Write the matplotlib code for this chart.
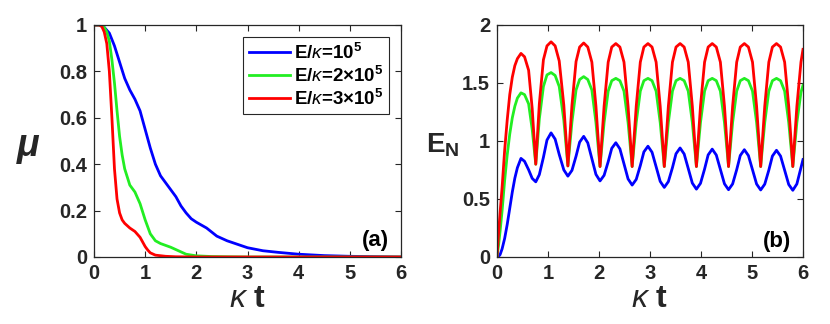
import matplotlib
matplotlib.use("Agg")
import matplotlib.pyplot as plt

plt.rcParams["font.family"] = ["Liberation Sans", "DejaVu Sans"]
plt.rcParams["mathtext.fontset"] = "custom"
plt.rcParams["mathtext.rm"] = "Liberation Sans"
plt.rcParams["mathtext.it"] = "Liberation Sans:italic"
plt.rcParams["mathtext.bf"] = "Liberation Sans:bold"
plt.rcParams["mathtext.bfit"] = "Liberation Sans:italic:bold"

# ---- panel (a): mu versus kappa t ----
t_a_blue = [0, 0.1, 0.2, 0.3, 0.4, 0.5, 0.6, 0.7, 0.8, 0.9, 1.0, 1.1, 1.2, 1.3,
            1.4, 1.5, 1.6, 1.7, 1.8, 1.9, 2.0, 2.2, 2.4, 2.6, 2.8, 3.0, 3.3,
            3.6, 4.0, 4.5, 5.0, 6.0]
mu_blue = [1, 1, 0.99, 0.965, 0.91, 0.84, 0.77, 0.72, 0.68, 0.63, 0.55, 0.47,
           0.40, 0.35, 0.32, 0.29, 0.26, 0.22, 0.19, 0.165, 0.15, 0.125, 0.09,
           0.07, 0.055, 0.04, 0.027, 0.02, 0.012, 0.006, 0.003, 0.0]

t_a_green = [0, 0.1, 0.2, 0.25, 0.3, 0.35, 0.4, 0.45, 0.5, 0.55, 0.6, 0.7, 0.8,
             0.9, 1.0, 1.1, 1.2, 1.3, 1.4, 1.5, 1.6, 1.7, 1.8, 2.0, 2.3, 2.6,
             3.0, 6.0]
mu_green = [1, 1, 0.99, 0.97, 0.93, 0.85, 0.75, 0.63, 0.52, 0.44, 0.38, 0.31,
            0.28, 0.23, 0.16, 0.10, 0.07, 0.058, 0.05, 0.042, 0.032, 0.022,
            0.012, 0.005, 0.002, 0.001, 0, 0]

t_a_red = [0, 0.1, 0.15, 0.2, 0.25, 0.3, 0.35, 0.4, 0.45, 0.5, 0.55, 0.6, 0.7,
           0.8, 0.9, 0.95, 1.0, 1.05, 1.1, 1.2, 1.4, 1.6, 2.0, 6.0]
mu_red = [1, 1, 0.995, 0.97, 0.92, 0.8, 0.6, 0.38, 0.25, 0.19, 0.16, 0.145,
          0.125, 0.11, 0.085, 0.065, 0.045, 0.03, 0.018, 0.008, 0.003, 0.001,
          0, 0]

# ---- panel (b): E_N versus kappa t (shared time grid) ----
t_b = [0, 0.03, 0.06, 0.1, 0.15, 0.2, 0.25, 0.3, 0.35, 0.4, 0.47,
       0.54, 0.62, 0.69, 0.76, 0.83, 0.91, 0.98, 1.06,
       1.14, 1.22, 1.31, 1.39, 1.47, 1.55, 1.62, 1.70,
       1.78, 1.86, 1.94, 2.02, 2.10, 2.18, 2.25, 2.33,
       2.41, 2.49, 2.57, 2.65, 2.73, 2.81, 2.88, 2.96,
       3.04, 3.12, 3.20, 3.28, 3.36, 3.44, 3.51, 3.59,
       3.67, 3.75, 3.83, 3.91, 3.99, 4.07, 4.14, 4.22,
       4.30, 4.38, 4.46, 4.54, 4.62, 4.70, 4.77, 4.85,
       4.93, 5.01, 5.09, 5.17, 5.25, 5.33, 5.40, 5.48,
       5.56, 5.64, 5.72, 5.80, 5.88, 5.96, 6.0]

en_blue = [0, 0.005, 0.02, 0.07, 0.16, 0.28, 0.42, 0.56, 0.68, 0.77, 0.85,
           0.825, 0.752, 0.678, 0.648, 0.710, 0.859, 1.008, 1.07,
           1.016, 0.884, 0.751, 0.697, 0.747, 0.869, 0.990, 1.04,
           0.984, 0.848, 0.712, 0.656, 0.704, 0.821, 0.937, 0.985,
           0.932, 0.803, 0.673, 0.62, 0.669, 0.788, 0.906, 0.955,
           0.903, 0.778, 0.652, 0.60, 0.650, 0.770, 0.890, 0.94,
           0.888, 0.763, 0.637, 0.585, 0.635, 0.758, 0.880, 0.93,
           0.879, 0.755, 0.631, 0.58, 0.630, 0.753, 0.875, 0.925,
           0.874, 0.752, 0.629, 0.578, 0.628, 0.749, 0.870, 0.92,
           0.870, 0.748, 0.625, 0.575, 0.63, 0.77, 0.84]

en_green = [0, 0.1, 0.22, 0.4, 0.66, 0.88, 1.06, 1.2, 1.3, 1.37, 1.415,
            1.40, 1.32, 1.10, 0.80, 1.19, 1.47, 1.57, 1.59,
            1.565, 1.47, 1.18, 0.785, 1.165, 1.44, 1.53, 1.555,
            1.53, 1.44, 1.16, 0.78, 1.16, 1.43, 1.52, 1.54,
            1.52, 1.43, 1.16, 0.78, 1.16, 1.43, 1.52, 1.54,
            1.52, 1.43, 1.16, 0.78, 1.16, 1.43, 1.52, 1.54,
            1.52, 1.43, 1.16, 0.78, 1.16, 1.43, 1.52, 1.54,
            1.52, 1.43, 1.16, 0.78, 1.16, 1.43, 1.52, 1.54,
            1.52, 1.43, 1.16, 0.78, 1.16, 1.43, 1.52, 1.54,
            1.52, 1.43, 1.16, 0.78, 1.16, 1.42, 1.48]

en_red = [0, 0.2, 0.38, 0.6, 0.92, 1.18, 1.4, 1.55, 1.65, 1.71, 1.755,
          1.726, 1.61, 1.28, 0.80, 1.32, 1.70, 1.82, 1.855,
          1.82, 1.69, 1.31, 0.785, 1.31, 1.685, 1.81, 1.845,
          1.81, 1.68, 1.30, 0.78, 1.30, 1.68, 1.81, 1.84,
          1.81, 1.68, 1.30, 0.78, 1.30, 1.68, 1.81, 1.84,
          1.81, 1.68, 1.30, 0.78, 1.30, 1.68, 1.81, 1.84,
          1.81, 1.68, 1.30, 0.78, 1.30, 1.68, 1.81, 1.84,
          1.81, 1.68, 1.30, 0.78, 1.30, 1.68, 1.81, 1.84,
          1.81, 1.68, 1.30, 0.78, 1.30, 1.68, 1.81, 1.84,
          1.81, 1.68, 1.30, 0.78, 1.30, 1.68, 1.79]

legend_labels = [r"E/$\kappa$=10$^{\mathbf{5}}$",
                 r"E/$\kappa$=2×10$^{\mathbf{5}}$",
                 r"E/$\kappa$=3×10$^{\mathbf{5}}$"]
colors = ["#0000ff", "#22ee22", "#ff0000"]
x_ticks = [0, 1, 2, 3, 4, 5, 6]
a_yticks = [0, 0.2, 0.4, 0.6, 0.8, 1]
a_ylabels = ["0", "0.2", "0.4", "0.6", "0.8", "1"]
b_yticks = [0, 0.5, 1, 1.5, 2]
b_ylabels = ["0", "0.5", "1", "1.5", "2"]

dark = "#262626"
lw = 2.0

fig = plt.figure(figsize=(8.3, 3.24), dpi=100)
ax1 = fig.add_axes([94 / 830, 67 / 324, 307 / 830, 232 / 324])
ax2 = fig.add_axes([497 / 830, 67 / 324, 306 / 830, 232 / 324])

ax1.plot(t_a_blue, mu_blue, color=colors[0], lw=lw, label=legend_labels[0])
ax1.plot(t_a_green, mu_green, color=colors[1], lw=lw, label=legend_labels[1])
ax1.plot(t_a_red, mu_red, color=colors[2], lw=lw, label=legend_labels[2])

ax2.plot(t_b, en_blue, color=colors[0], lw=lw)
ax2.plot(t_b, en_green, color=colors[1], lw=lw)
ax2.plot(t_b, en_red, color=colors[2], lw=lw)

for ax, yt, yl in [(ax1, a_yticks, a_ylabels), (ax2, b_yticks, b_ylabels)]:
    ax.set_xlim(0, 6)
    ax.set_ylim(yt[0], yt[-1])
    ax.set_xticks(x_ticks)
    ax.set_xticklabels([str(v) for v in x_ticks])
    ax.set_yticks(yt)
    ax.set_yticklabels(yl)
    ax.tick_params(direction="in", length=4, width=0.8, top=True, right=True,
                   colors=dark, labelsize=14.5, pad=5)
    for lab in ax.get_xticklabels() + ax.get_yticklabels():
        lab.set_fontweight("bold")
    for sp in ax.spines.values():
        sp.set_color(dark)
        sp.set_linewidth(0.9)
    ax.set_xlabel(r"$\kappa$ t", fontsize=23, fontweight="bold", color=dark)
    ax.xaxis.set_label_coords(0.5, -0.115)

ax1.set_ylabel(r"$\boldsymbol{\mu}$", fontsize=27, rotation=0, color=dark,
               ha="center", va="center")
ax1.yaxis.set_label_coords(-0.212, 0.47)
ax2.set_ylabel(r"E$_{\mathbf{N}}$", fontsize=20, fontweight="bold",
               rotation=0, color=dark, ha="center", va="center")
ax2.yaxis.set_label_coords(-0.176, 0.48)

ax1.text(0.96, 0.07, "(a)", transform=ax1.transAxes, ha="right",
         va="center", fontsize=16, fontweight="bold", color="black")
ax2.text(0.96, 0.065, "(b)", transform=ax2.transAxes, ha="right",
         va="center", fontsize=16, fontweight="bold", color="black")

leg = ax1.legend(loc="upper right", bbox_to_anchor=(0.961, 0.948),
                 borderaxespad=0, fancybox=False, framealpha=1,
                 handlelength=2.2, handletextpad=0.2, labelspacing=0.15,
                 borderpad=0.3, prop={"weight": "bold", "size": 13.5})
leg.get_frame().set_edgecolor(dark)
leg.get_frame().set_linewidth(0.8)
for txt in leg.get_texts():
    txt.set_color("black")

fig.savefig("out.png", dpi=100)
